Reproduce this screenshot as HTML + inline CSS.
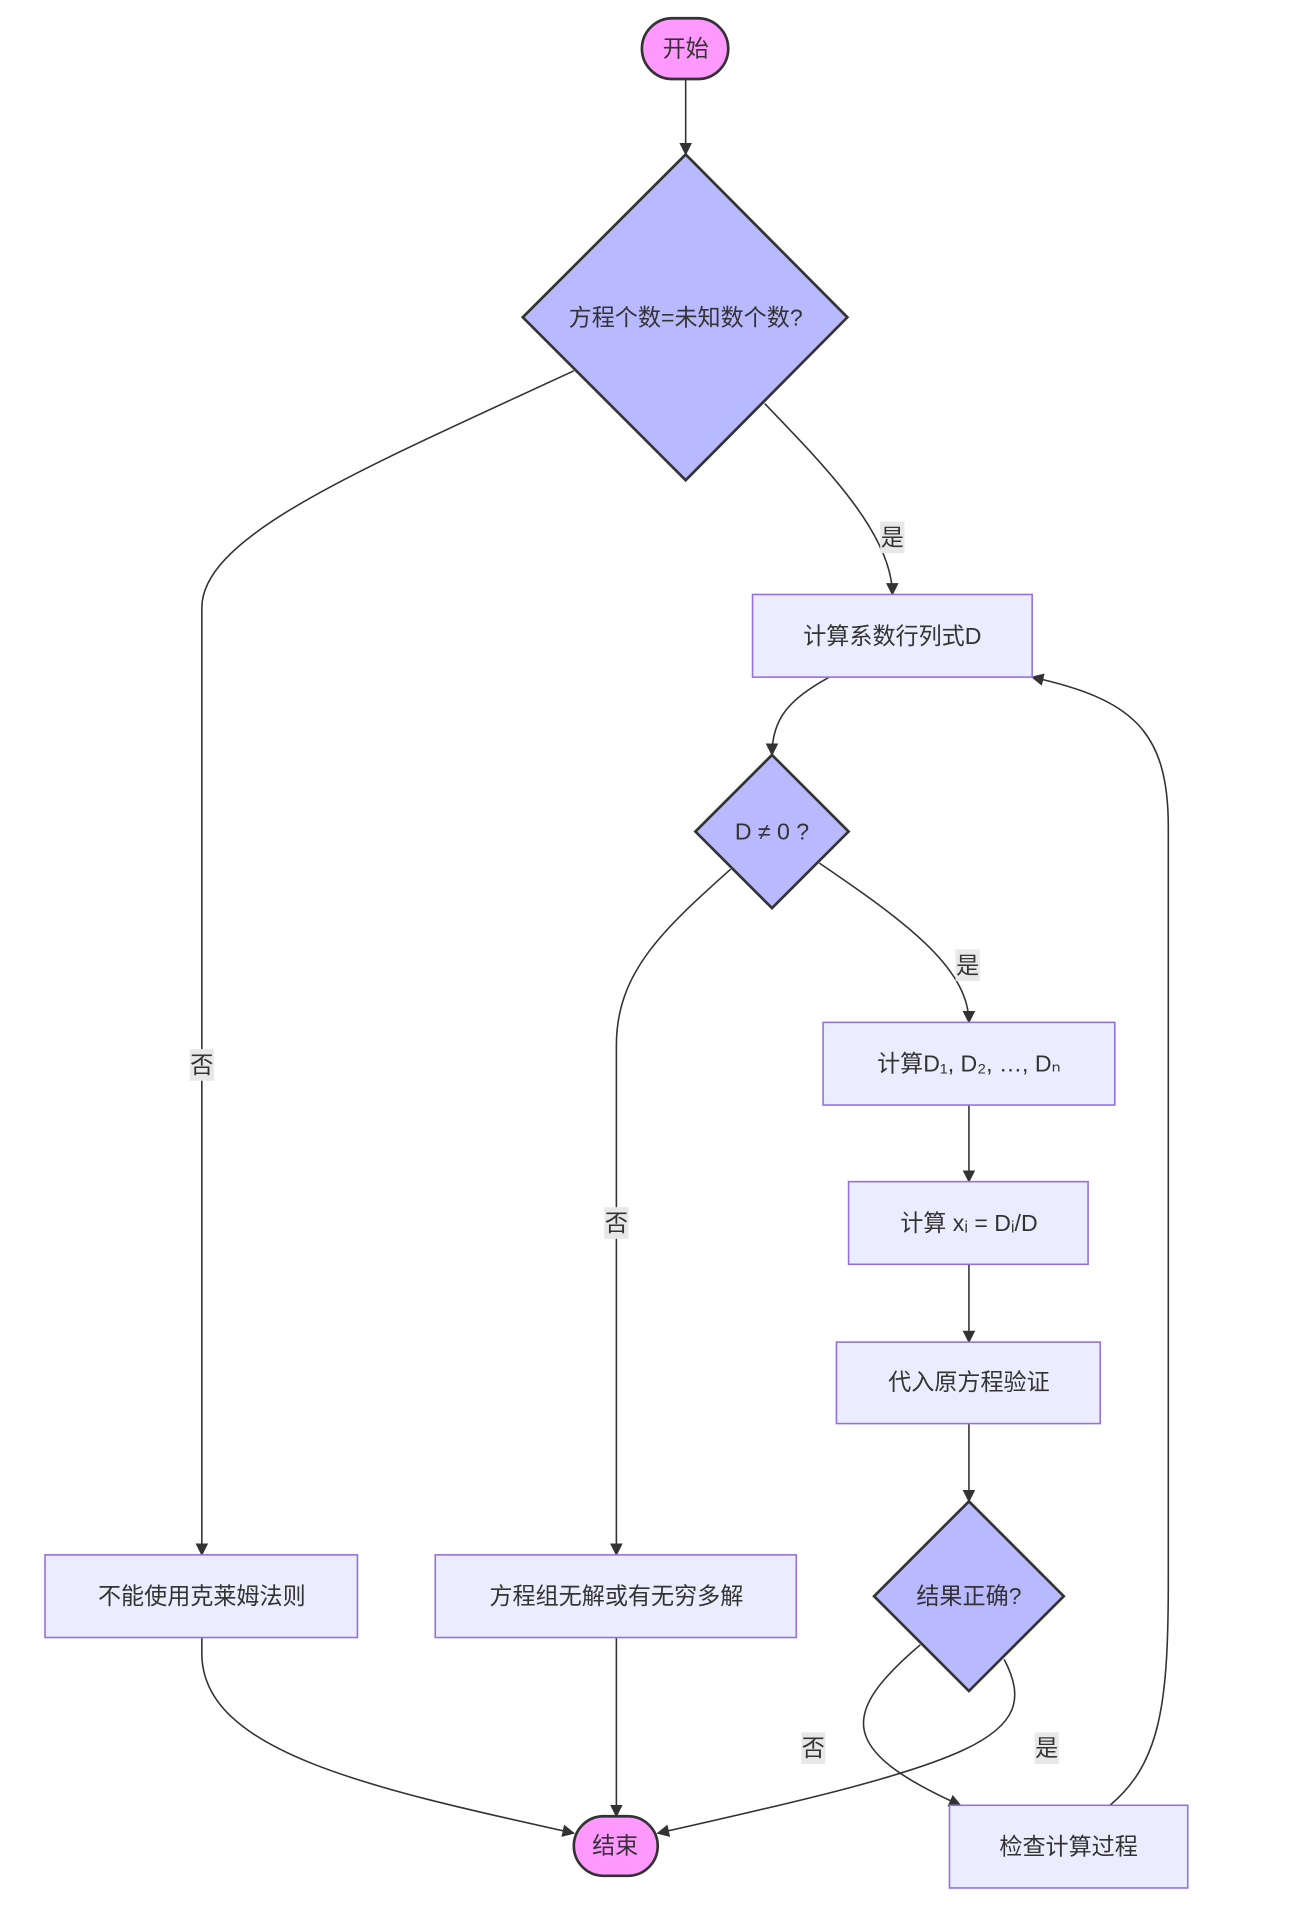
<!DOCTYPE html>
<html><head><meta charset="utf-8"><style>
html,body{margin:0;padding:0;background:#fff;}
svg{display:block;}
text{font-family:"Liberation Sans","Noto Sans CJK SC",sans-serif;font-size:19px;fill:#333;text-anchor:middle;dominant-baseline:central;}
.e{fill:none;stroke:#333;stroke-width:1.3;}
.n{fill:#ececff;stroke:#9370db;stroke-width:1.3;}
.d{fill:#b9b9ff;stroke:#333;stroke-width:2.2;}
.t{fill:#ff99ff;stroke:#333;stroke-width:2.2;}
.lb{fill:#e8e8e8;}
</style></head><body>
<svg width="1313" height="1913" viewBox="0 0 1080 1573.6" xmlns="http://www.w3.org/2000/svg">
<defs><marker id="a" viewBox="0 0 10 10" refX="9" refY="5" markerWidth="8" markerHeight="8" orient="auto"><path d="M0,0 L10,5 L0,10 z" fill="#333"/></marker></defs>
<path class="e" marker-end="url(#a)" d="M564,65 L564,127"/>
<path class="e" marker-end="url(#a)" d="M472,305 C300,385 166,440 166,500 L166,1279"/>
<path class="e" marker-end="url(#a)" d="M629,332 C680,385 734,440 734,489"/>
<path class="e" marker-end="url(#a)" d="M682,557 C650,575 635,590 635,621"/>
<path class="e" marker-end="url(#a)" d="M601,715 C545,765 507,800 507,860 L507,1279"/>
<path class="e" marker-end="url(#a)" d="M674,710 C740,755 797,795 797,841"/>
<path class="e" marker-end="url(#a)" d="M797,909 L797,972"/>
<path class="e" marker-end="url(#a)" d="M797,1040 L797,1104"/>
<path class="e" marker-end="url(#a)" d="M797,1171 L797,1235"/>
<path class="e" marker-end="url(#a)" d="M757,1353 C690,1410 690,1440 790,1485"/>
<path class="e" marker-end="url(#a)" d="M826,1365 C860,1430 800,1450 541,1508"/>
<path class="e" marker-end="url(#a)" d="M166,1347 L166,1360 C166,1440 300,1470 472,1508"/>
<path class="e" marker-end="url(#a)" d="M507,1347 L507,1494"/>
<path class="e" marker-end="url(#a)" d="M913,1485 C955,1450 961,1400 961,1300 L961,680 C961,600 930,575 849,557"/>
<rect class="lb" x="156" y="863" width="20" height="26"/><text x="166" y="876">否</text>
<rect class="lb" x="724" y="429" width="20" height="26"/><text x="734" y="442">是</text>
<rect class="lb" x="497" y="993" width="20" height="26"/><text x="507" y="1006">否</text>
<rect class="lb" x="786" y="781" width="20" height="26"/><text x="796" y="794">是</text>
<rect class="lb" x="659" y="1425" width="20" height="26"/><text x="669" y="1438">否</text>
<rect class="lb" x="851" y="1425" width="20" height="26"/><text x="861" y="1438">是</text>
<rect class="t" x="528" y="15" width="71" height="50" rx="25"/><text x="564" y="40">开始</text>
<polygon class="d" points="564,127 697,261 564,395 430,261"/><text x="564" y="261">方程个数=未知数个数?</text>
<rect class="n" x="619" y="489" width="230" height="68"/><text x="734" y="523">计算系数行列式D</text>
<polygon class="d" points="635,621 698,684 635,747 572,684"/><text x="635" y="684">D ≠ 0 ?</text>
<rect class="n" x="677" y="841" width="240" height="68"/><text x="797" y="875">计算D₁, D₂, …, Dₙ</text>
<rect class="n" x="698" y="972" width="197" height="68"/><text x="797" y="1006">计算 xᵢ = Dᵢ/D</text>
<rect class="n" x="688" y="1104" width="217" height="67"/><text x="797" y="1137">代入原方程验证</text>
<polygon class="d" points="797,1235 875,1313 797,1391 719,1313"/><text x="797" y="1313">结果正确?</text>
<rect class="n" x="37" y="1279" width="257" height="68"/><text x="166" y="1313">不能使用克莱姆法则</text>
<rect class="n" x="358" y="1279" width="297" height="68"/><text x="507" y="1313">方程组无解或有无穷多解</text>
<rect class="n" x="781" y="1485" width="196" height="68"/><text x="879" y="1519">检查计算过程</text>
<rect class="t" x="472" y="1494" width="69" height="49" rx="24.5"/><text x="506" y="1518">结束</text>
</svg>
</body></html>
